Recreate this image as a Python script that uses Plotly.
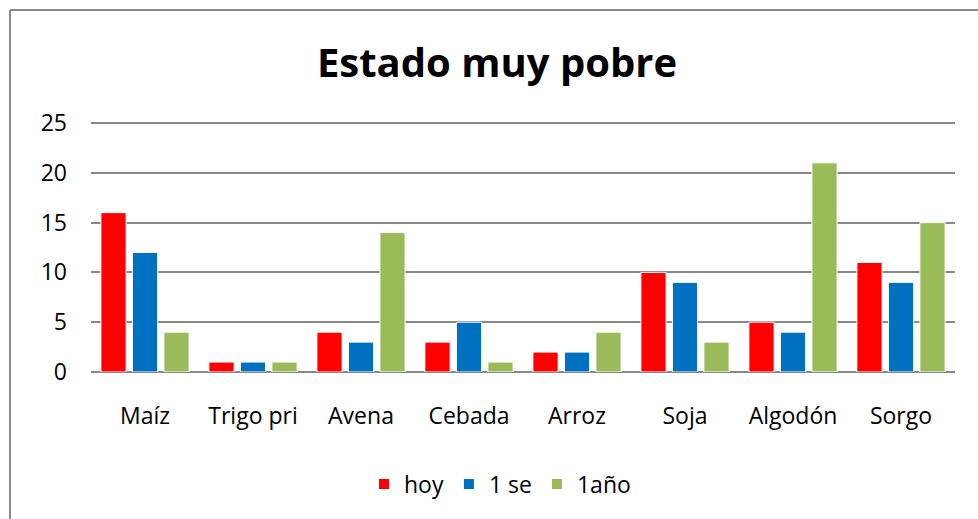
import plotly.graph_objects as go

categories = ["Maíz", "Trigo pri", "Avena", "Cebada", "Arroz", "Soja", "Algodón", "Sorgo"]
hoy = [16, 1, 4, 3, 2, 10, 5, 11]
una_se = [12, 1, 3, 5, 2, 9, 4, 9]
un_ano = [4, 1, 14, 1, 4, 3, 21, 15]
series_names = ["hoy", "1 se", "1año"]
colors = ["#FF0000", "#0070C0", "#9BBB59"]
y_ticks = [0, 5, 10, 15, 20, 25]

W, H = 978, 519
L, R, B = 91, 955, 372
SCALE = (372 - 123) / 25.0
YMAX = 25.3
T = round(B - YMAX * SCALE)

fig = go.Figure()
for name, vals, c in zip(series_names, [hoy, una_se, un_ano], colors):
    fig.add_trace(go.Bar(x=categories, y=vals, name=name,
                         marker=dict(color=c, line=dict(color="white", width=1))))

pw = R - L
ph = B - T
def px(x):
    return (x - L) / pw
def py(y):
    return (B - y) / ph

FONT = "Open Sans, Liberation Sans, sans-serif"
fig.update_layout(
    width=W, height=H,
    margin=dict(l=L, r=W - R, t=T, b=H - B, pad=0),
    paper_bgcolor="white", plot_bgcolor="white",
    barmode="group", bargap=0.125, bargroupgap=0.2,
    font=dict(family=FONT, color="#000000", size=23),
    title=dict(text="<b>Estado muy pobre</b>", x=px(497), xref="paper", xanchor="center",
               y=1 - 63 / H, yanchor="middle", font=dict(size=40, color="#000000")),
    showlegend=True,
    legend=dict(orientation="h", x=px(500), xanchor="center", y=py(484), yanchor="middle",
                font=dict(size=23), traceorder="normal", itemsizing="constant"),
    xaxis=dict(showgrid=False, showline=False, ticks="", tickfont=dict(size=23),
               ticklabelstandoff=28),
    yaxis=dict(range=[0, YMAX], tickvals=y_ticks, showgrid=True,
               gridcolor="#888888", gridwidth=2,
               zeroline=True, zerolinecolor="#888888", zerolinewidth=2, showline=False,
               ticks="", tickfont=dict(size=23), ticklabelstandoff=23),
    shapes=[
        dict(type="line", xref="paper", yref="paper", x0=px(10), x1=px(990), y0=py(10), y1=py(10),
             line=dict(color="#888888", width=2)),
        dict(type="line", xref="paper", yref="paper", x0=px(10), x1=px(10), y0=py(10), y1=py(530),
             line=dict(color="#888888", width=2)),
    ],
)

fig.write_html("out.html", config={"displayModeBar": False},
               post_script="document.body.style.margin='0';")
